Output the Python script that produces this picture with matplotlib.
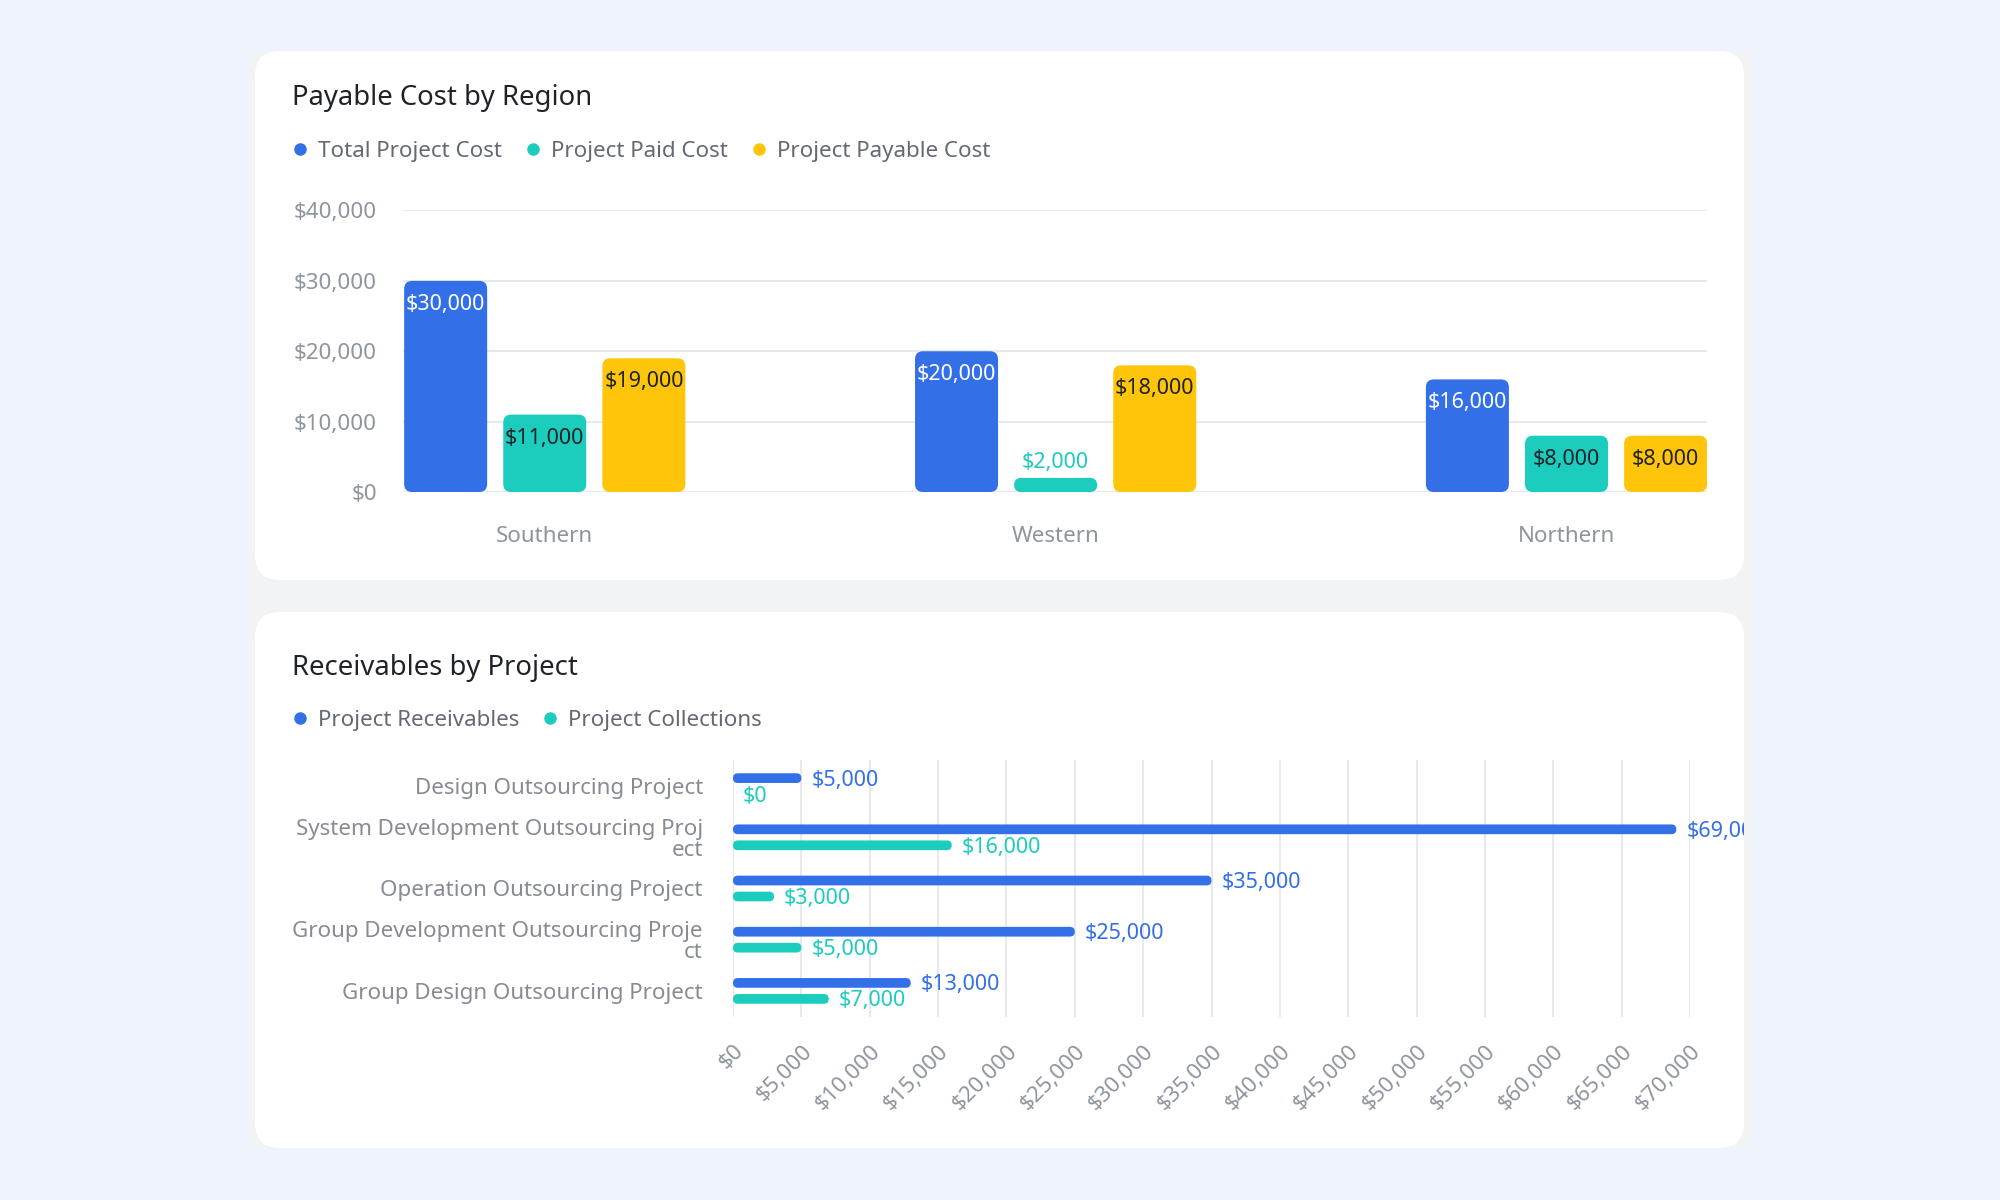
import numpy as np
import matplotlib.pyplot as plt
from matplotlib.patches import FancyBboxPatch
from matplotlib.lines import Line2D
from matplotlib.transforms import Bbox, TransformedBbox


plt.rcParams.update({
    "font.family": ["Noto Sans", "DejaVu Sans"],
})

# ---- data ----
REGIONS = ["Southern", "Western", "Northern"]
COST_SERIES = ["Total Project Cost", "Project Paid Cost", "Project Payable Cost"]
TOTAL_COST = [30000, 20000, 16000]
PAID_COST = [11000, 2000, 8000]
PAYABLE_COST = [19000, 18000, 8000]
COST_TICKS = [0, 10000, 20000, 30000, 40000]

PROJECTS = [
    "Design Outsourcing Project",
    "System Development Outsourcing Proj\nect",
    "Operation Outsourcing Project",
    "Group Development Outsourcing Proje\nct",
    "Group Design Outsourcing Project",
]
RECV_SERIES = ["Project Receivables", "Project Collections"]
RECEIVABLES = [5000, 69000, 35000, 25000, 13000]
COLLECTIONS = [0, 16000, 3000, 5000, 7000]
RECV_TICKS = list(range(0, 70001, 5000))

BLUE = "#336FE6"
TEAL = "#1CCDBE"
YELLOW = "#FFC50A"
TITLE_C = "#1F2329"
LEGEND_C = "#646A73"
CAT_C = "#878B93"
TICK_C = "#8F959E"
GRID_C = "#E8E9ED"

W, H = 2000, 1200
FS = 16.1
fig = plt.figure(figsize=(W / 100, H / 100), dpi=100)
fig.patch.set_facecolor("#EEF3FC")


def px_rect(x0, y0, x1, y1):
    # pixel box (origin top-left) -> figure fraction rect
    return [x0 / W, 1 - y1 / H, (x1 - x0) / W, (y1 - y0) / H]


def panel(x0, y0, x1, y1, color, r, z):
    p = FancyBboxPatch((x0 / 100, (H - y1) / 100), (x1 - x0) / 100, (y1 - y0) / 100,
                       boxstyle=f"round,pad=0,rounding_size={r / 100}",
                       transform=fig.dpi_scale_trans, fc=color, ec="none", zorder=z)
    fig.add_artist(p)


def rounded_bars(ax, lefts, bottoms, widths, heights, color, r_px):
    inv = ax.transData.inverted()
    (ax0, ay0), (ax1, ay1) = inv.transform([(0, 0), (1, 1)])
    dx, dy = abs(ax1 - ax0), abs(ay1 - ay0)
    for l, b, w, h in zip(lefts, bottoms, widths, heights):
        if w <= 0 or h <= 0:
            continue
        r = min(r_px, w / dx / 2, h / dy / 2)
        ax.add_patch(FancyBboxPatch((l, b), w, h,
                                    boxstyle=f"round,pad=0,rounding_size={r * dx}",
                                    mutation_aspect=dy / dx, fc=color, ec="none", zorder=3))


def legend_row(names, colors, x, y, fs):
    renderer = fig.canvas.get_renderer()
    for name, c in zip(names, colors):
        fig.add_artist(Line2D([x / W], [1 - (y - 3) / H], marker="o", ms=8, color=c, lw=0,
                              transform=fig.transFigure))
        t = fig.text((x + 18) / W, 1 - y / H, name, fontsize=fs, color=LEGEND_C,
                     va="center", ha="left")
        bb = t.get_window_extent(renderer)
        x = bb.x1 + 31


def money(v):
    return f"${v:,.0f}"


# background panels
panel(250, 51, 1752, 1148, "#F2F3F5", 4, -3)
panel(255, 51, 1744, 580, "white", 25, -2)
panel(255, 612, 1744, 1148, "white", 25, -2)

# ---- top chart ----
fig.text(292 / W, 1 - 98.5 / H, "Payable Cost by Region", fontsize=19.8, color=TITLE_C,
         va="center", ha="left")
legend_row(COST_SERIES, [BLUE, TEAL, YELLOW], 300, 151.5, FS)

ax1 = fig.add_axes(px_rect(403, 210.5, 1707, 492))
ax1.set_facecolor("none")
ax1.set_xlim(-0.2775, 2.275)
ax1.set_ylim(0, 40000)
x = np.arange(len(REGIONS))
bw = 0.1625
offs = [-0.194, 0.0, 0.194]
series = [TOTAL_COST, PAID_COST, PAYABLE_COST]
colors = [BLUE, TEAL, YELLOW]
inner_text = ["white", "#1F2329", "#1F2329"]
px_per_y = 281.5 / 40000
for vals, off, c, tc in zip(series, offs, colors, inner_text):
    vals = np.array(vals)
    rounded_bars(ax1, x + off - bw / 2, np.zeros(len(vals)), [bw] * len(vals), vals, c, 8)
    for xi, v in zip(x + off, vals):
        if v * px_per_y > 32:
            ax1.annotate(money(v), (xi, v), xytext=(0, -23.5 * 0.72), textcoords="offset points",
                         ha="center", va="center", fontsize=15.5, color=tc, zorder=4)
        else:
            ax1.annotate(money(v), (xi, v), xytext=(0, 15.5 * 0.72), textcoords="offset points",
                         ha="center", va="center", fontsize=15.5, color=c, zorder=4)

ax1.set_yticks(COST_TICKS)
ax1.set_yticklabels([money(v) for v in COST_TICKS])
ax1.set_xticks(x)
ax1.set_xticklabels(REGIONS)
ax1.tick_params(axis="both", length=0, labelsize=FS, labelcolor=TICK_C)
ax1.tick_params(axis="y", pad=26 * 0.72)
ax1.tick_params(axis="x", pad=34 * 0.72)
ax1.grid(axis="y", color=GRID_C, lw=1.5, zorder=0)
ax1.set_axisbelow(True)
for s in ax1.spines.values():
    s.set_visible(False)

# ---- bottom chart ----
fig.text(292 / W, 1 - 667.5 / H, "Receivables by Project", fontsize=19.8, color=TITLE_C,
         va="center", ha="left")
legend_row(RECV_SERIES, [BLUE, TEAL], 300, 720.5, FS)

ax2 = fig.add_axes(px_rect(733, 760.5, 1690, 1016.5))
ax2.set_facecolor("none")
ax2.set_xlim(0, 70000)
ax2.set_ylim(4.5, -0.5)
y = np.arange(len(PROJECTS))
bh = 0.19
boff = 0.156
card_clip = TransformedBbox(Bbox([[255 / W, 0], [1744 / W, 1]]), fig.transFigure)
for vals, off, c in [(RECEIVABLES, -boff, BLUE), (COLLECTIONS, boff, TEAL)]:
    vals = np.array(vals)
    rounded_bars(ax2, np.zeros(len(vals)), y + off - bh / 2, vals, [bh] * len(vals), c, 6)
    for yi, v in zip(y + off, vals):
        t = ax2.annotate(money(v), (v, yi), xytext=(10 * 0.72, -1.5), textcoords="offset points",
                         ha="left", va="center", fontsize=15.5, color=c, zorder=4,
                         annotation_clip=False)
        t.set_clip_box(card_clip)
        t.set_clip_on(True)

ax2.set_yticks(y)
ax2.set_yticklabels(PROJECTS)
for lab in ax2.get_yticklabels():
    lab.set_multialignment("right")
    lab.set_linespacing(1.0)
ax2.set_xticks(RECV_TICKS)
ax2.set_xticklabels([money(v) for v in RECV_TICKS], rotation=45, ha="right", va="top",
                    rotation_mode="anchor")
ax2.tick_params(axis="both", length=0, labelsize=FS)
ax2.tick_params(axis="y", pad=30 * 0.72, labelcolor=CAT_C)
ax2.tick_params(axis="x", pad=24 * 0.72, labelcolor=TICK_C)
ax2.grid(axis="x", color=GRID_C, lw=1.5, zorder=0)
ax2.set_axisbelow(True)
for s in ax2.spines.values():
    s.set_visible(False)

fig.savefig("out.png", dpi=100, facecolor=fig.get_facecolor())
